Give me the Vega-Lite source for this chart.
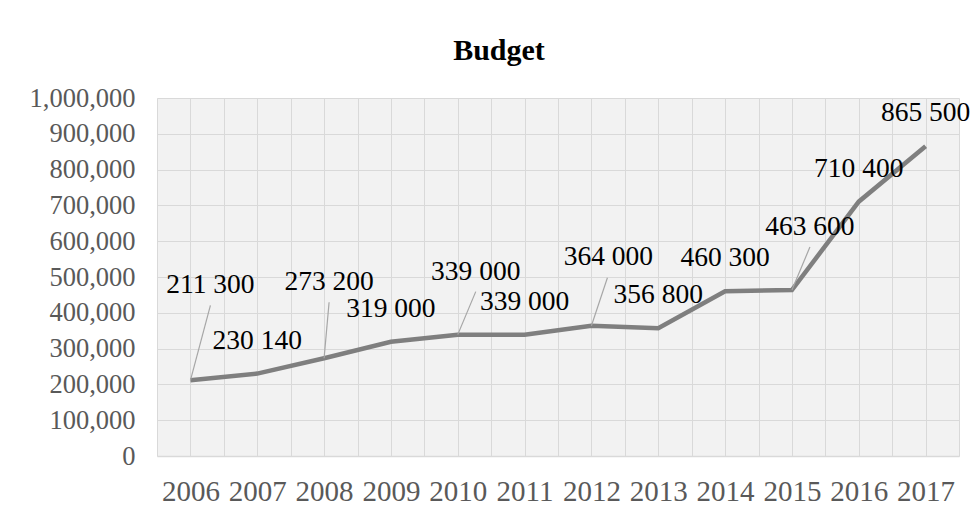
{
  "$schema": "https://vega.github.io/schema/vega-lite/v6.json",
  "autosize": "none",
  "width": 802,
  "height": 358,
  "padding": {"left": 157, "top": 98, "right": 15, "bottom": 59},
  "background": "white",
  "title": {"text": "Budget", "anchor": "middle", "frame": "group", "dx": -59, "offset": 19, "font": "Liberation Serif", "fontSize": 30, "fontWeight": "bold", "color": "#000000"},
  "config": {
    "view": {"fill": "#f2f2f2", "stroke": null},
    "font": "Liberation Serif"
  },
  "data": {"values": [
    {"year": 2006, "value": 211300},
    {"year": 2007, "value": 230140},
    {"year": 2008, "value": 273200},
    {"year": 2009, "value": 319000},
    {"year": 2010, "value": 339000},
    {"year": 2011, "value": 339000},
    {"year": 2012, "value": 364000},
    {"year": 2013, "value": 356800},
    {"year": 2014, "value": 460300},
    {"year": 2015, "value": 463600},
    {"year": 2016, "value": 710400},
    {"year": 2017, "value": 865500}
  ]},
  "encoding": {
    "x": {"field": "year", "type": "quantitative",
      "scale": {"domain": [2005.5, 2017.5], "nice": false, "zero": false},
      "axis": {"title": null, "tickCount": 100, "tickMinStep": 0.1, "values": [2005.5, 2006, 2006.5, 2007, 2007.5, 2008, 2008.5, 2009, 2009.5, 2010, 2010.5, 2011, 2011.5, 2012, 2012.5, 2013, 2013.5, 2014, 2014.5, 2015, 2015.5, 2016, 2016.5, 2017, 2017.5],
        "labelExpr": "datum.value % 1 === 0 ? format(datum.value, 'd') : ''",
        "labelOverlap": false, "labelBound": false, "labelFlush": false,
        "grid": true, "gridColor": "#d9d9d9", "gridWidth": 1,
        "ticks": false, "domain": true, "domainColor": "#d9d9d9", "domainWidth": 1.5,
        "labelFont": "Liberation Serif", "labelFontSize": 29, "labelColor": "#595959", "labelPadding": 21}},
    "y": {"field": "value", "type": "quantitative",
      "scale": {"domain": [0, 1000000], "nice": false},
      "axis": {"title": null, "tickCount": 100, "values": [0, 100000, 200000, 300000, 400000, 500000, 600000, 700000, 800000, 900000, 1000000],
        "format": ",d", "grid": true, "gridColor": "#d9d9d9", "gridWidth": 1,
        "ticks": false, "domain": false, "labelOverlap": false,
        "labelFont": "Liberation Serif", "labelFontSize": 26.5, "labelColor": "#595959", "labelPadding": 22}}
  },
  "layer": [
    {"mark": {"type": "line", "color": "#7f7f7f", "strokeWidth": 4.5}},
    {"transform": [{"filter": "datum.year === 2006"}],
     "mark": {"type": "rule", "color": "#a6a6a6", "strokeWidth": 1.2, "x2Offset": 20, "y2Offset": -75},
     "encoding": {"x2": {"field": "year"}, "y2": {"field": "value"}}},
    {"transform": [{"filter": "datum.year === 2008"}],
     "mark": {"type": "rule", "color": "#a6a6a6", "strokeWidth": 1.2, "x2Offset": 5, "y2Offset": -56},
     "encoding": {"x2": {"field": "year"}, "y2": {"field": "value"}}},
    {"transform": [{"filter": "datum.year === 2010 || datum.year === 2015"}],
     "mark": {"type": "rule", "color": "#a6a6a6", "strokeWidth": 1.2, "x2Offset": 18, "y2Offset": -43},
     "encoding": {"x2": {"field": "year"}, "y2": {"field": "value"}}},
    {"transform": [{"filter": "datum.year === 2012"}],
     "mark": {"type": "rule", "color": "#a6a6a6", "strokeWidth": 1.2, "x2Offset": 16, "y2Offset": -48},
     "encoding": {"x2": {"field": "year"}, "y2": {"field": "value"}}},
    {"transform": [{"filter": "indexof([2007, 2009, 2011, 2013, 2014, 2016, 2017], datum.year) >= 0"}, {"calculate": "replace(format(datum.value, ','), ',', ' ')", "as": "label"}],
     "mark": {"type": "text", "font": "Liberation Serif", "fontSize": 27.5, "color": "#000000", "align": "center", "baseline": "middle", "dx": 0, "dy": -33},
     "encoding": {"text": {"field": "label"}}},
    {"transform": [{"filter": "datum.year === 2006"}, {"calculate": "replace(format(datum.value, ','), ',', ' ')", "as": "label"}],
     "mark": {"type": "text", "font": "Liberation Serif", "fontSize": 27.5, "color": "#000000", "align": "center", "baseline": "middle", "dx": 20, "dy": -95},
     "encoding": {"text": {"field": "label"}}},
    {"transform": [{"filter": "datum.year === 2008"}, {"calculate": "replace(format(datum.value, ','), ',', ' ')", "as": "label"}],
     "mark": {"type": "text", "font": "Liberation Serif", "fontSize": 27.5, "color": "#000000", "align": "center", "baseline": "middle", "dx": 5, "dy": -76},
     "encoding": {"text": {"field": "label"}}},
    {"transform": [{"filter": "datum.year === 2010 || datum.year === 2015"}, {"calculate": "replace(format(datum.value, ','), ',', ' ')", "as": "label"}],
     "mark": {"type": "text", "font": "Liberation Serif", "fontSize": 27.5, "color": "#000000", "align": "center", "baseline": "middle", "dx": 18, "dy": -63},
     "encoding": {"text": {"field": "label"}}},
    {"transform": [{"filter": "datum.year === 2012"}, {"calculate": "replace(format(datum.value, ','), ',', ' ')", "as": "label"}],
     "mark": {"type": "text", "font": "Liberation Serif", "fontSize": 27.5, "color": "#000000", "align": "center", "baseline": "middle", "dx": 17, "dy": -69},
     "encoding": {"text": {"field": "label"}}}
  ]
}
